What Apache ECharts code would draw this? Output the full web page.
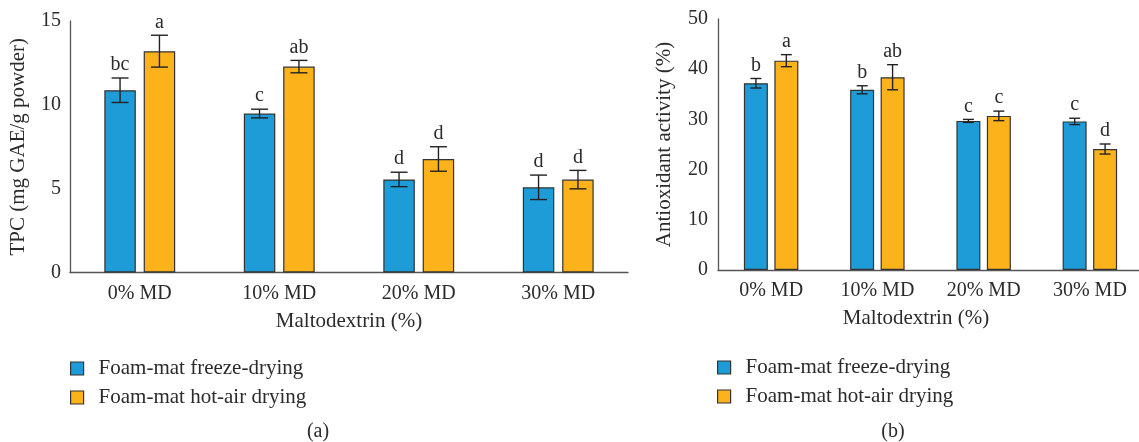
<!DOCTYPE html>
<html>
<head>
<meta charset="utf-8">
<script src="https://cdn.jsdelivr.net/npm/echarts@6/dist/echarts.min.js"></script>
<style>
html,body{margin:0;padding:0;background:#fff;}
#c{width:1139px;height:442px;}
</style>
</head>
<body>
<div id="c"></div>
<script>
// ---- data ----
var categories = ['0% MD', '10% MD', '20% MD', '30% MD'];
var seriesNames = ['Foam-mat freeze-drying', 'Foam-mat hot-air drying'];

// (a) TPC
var tpcFreeze = [10.87, 9.48, 5.55, 5.08];
var tpcFreezeErr = [0.73, 0.26, 0.43, 0.73];
var tpcFreezeLetters = ['bc', 'c', 'd', 'd'];
var tpcHot = [13.2, 12.28, 6.77, 5.54];
var tpcHotErr = [0.95, 0.37, 0.73, 0.55];
var tpcHotLetters = ['a', 'ab', 'd', 'd'];
var tpcTicks = [0, 5, 10, 15];

// (b) Antioxidant activity
var aoFreeze = [37.2, 35.9, 29.7, 29.6];
var aoFreezeErr = [0.95, 0.8, 0.3, 0.63];
var aoFreezeLetters = ['b', 'b', 'c', 'c'];
var aoHot = [41.7, 38.4, 30.7, 24.1];
var aoHotErr = [1.2, 2.5, 0.95, 1.0];
var aoHotLetters = ['a', 'ab', 'c', 'd'];
var aoTicks = [0, 10, 20, 30, 40, 50];

// ---- styles ----
var FONT = '"Liberation Serif", "DejaVu Serif", serif';
var FS = 20;
var BLUE = '#1E9CD7';
var ORANGE = '#FBB21B';
var TXT = '#2b2b2b';
var AXIS = '#555';

function errSeries(xIdx, vals, errs, letters, offset, cap) {
  return {
    type: 'custom',
    xAxisIndex: xIdx, yAxisIndex: xIdx,
    silent: true, z: 10,
    data: vals.map(function (v, i) { return [i, v + errs[i], v - errs[i]]; }),
    renderItem: function (params, api) {
      var i = api.value(0);
      var hi = api.coord([i, api.value(1)]);
      var lo = api.coord([i, api.value(2)]);
      var x = hi[0] + offset;
      var st = { stroke: '#222', lineWidth: 1.4 };
      return {
        type: 'group',
        children: [
          { type: 'line', shape: { x1: x, y1: hi[1], x2: x, y2: lo[1] }, style: st },
          { type: 'line', shape: { x1: x - cap / 2, y1: hi[1], x2: x + cap / 2, y2: hi[1] }, style: st },
          { type: 'line', shape: { x1: x - cap / 2, y1: lo[1], x2: x + cap / 2, y2: lo[1] }, style: st },
          { type: 'text', style: { text: letters[params.dataIndex], x: x, y: hi[1] - 3,
              align: 'center', verticalAlign: 'bottom', font: FS + 'px ' + FONT, fill: TXT } }
        ]
      };
    }
  };
}

function barSeries(name, xIdx, data, color, width, gap) {
  return {
    name: name, type: 'bar', xAxisIndex: xIdx, yAxisIndex: xIdx,
    data: data, barWidth: width, barGap: gap,
    itemStyle: { color: color, borderColor: '#333', borderWidth: 1.2 }
  };
}

var xAxisCommon = {
  type: 'category', data: categories,
  axisLine: { lineStyle: { color: AXIS, width: 1.3 } },
  axisTick: { show: false },
  axisLabel: { color: TXT, fontFamily: FONT, fontSize: FS, margin: 11 }
};

var option = {
  animation: false,
  backgroundColor: '#fff',
  textStyle: { fontFamily: FONT },
  grid: [
    { left: 70, top: 21, width: 558, height: 251.5, containLabel: false, outerBoundsMode: 'none' },
    { left: 718, top: 19, width: 425, height: 251, containLabel: false, outerBoundsMode: 'none' }
  ],
  xAxis: [
    Object.assign({ gridIndex: 0, name: 'Maltodextrin (%)', nameLocation: 'middle', nameGap: 38,
      nameTextStyle: { color: TXT, fontFamily: FONT, fontSize: 21 } }, xAxisCommon),
    Object.assign({ gridIndex: 1 }, xAxisCommon)
  ],
  yAxis: [
    { type: 'value', gridIndex: 0, min: tpcTicks[0], max: tpcTicks[tpcTicks.length - 1], interval: tpcTicks[1] - tpcTicks[0],
      name: 'TPC (mg GAE/g powder)', nameLocation: 'middle', nameGap: 41,
      nameTextStyle: { color: TXT, fontFamily: FONT, fontSize: 21 },
      axisLine: { show: true, lineStyle: { color: AXIS, width: 1.3 } },
      axisTick: { show: false }, splitLine: { show: false },
      axisLabel: { color: TXT, fontFamily: FONT, fontSize: FS, margin: 9 } },
    { type: 'value', gridIndex: 1, min: aoTicks[0], max: aoTicks[aoTicks.length - 1], interval: aoTicks[1] - aoTicks[0],
      name: 'Antioxidant activity (%)', nameLocation: 'middle', nameGap: 43,
      nameTextStyle: { color: TXT, fontFamily: FONT, fontSize: 21 },
      axisLine: { show: true, lineStyle: { color: AXIS, width: 1.3 } },
      axisTick: { show: false }, splitLine: { show: false },
      axisLabel: { color: TXT, fontFamily: FONT, fontSize: FS, margin: 10 } }
  ],
  legend: [
    { orient: 'vertical', left: 65, top: 353, itemWidth: 13, itemHeight: 13, itemGap: 8,
      icon: 'rect', data: seriesNames, selectedMode: false,
      itemStyle: { borderColor: '#333', borderWidth: 1.2 },
      textStyle: { color: TXT, fontFamily: FONT, fontSize: 21, lineHeight: 20, padding: [0, 0, 0, 10] } },
    { orient: 'vertical', left: 712, top: 352, itemWidth: 13, itemHeight: 13, itemGap: 8,
      icon: 'rect', data: seriesNames, selectedMode: false,
      itemStyle: { borderColor: '#333', borderWidth: 1.2 },
      textStyle: { color: TXT, fontFamily: FONT, fontSize: 21, lineHeight: 20, padding: [0, 0, 0, 10] } }
  ],
  graphic: [
    { type: 'text', position: [916, 318], style: { text: 'Maltodextrin (%)', align: 'center', verticalAlign: 'middle',
        font: '21px ' + FONT, fill: TXT } },
    { type: 'text', position: [318, 432], style: { text: '(a)', align: 'center', verticalAlign: 'middle',
        font: '20px ' + FONT, fill: TXT } },
    { type: 'text', position: [893, 432], style: { text: '(b)', align: 'center', verticalAlign: 'middle',
        font: '20px ' + FONT, fill: TXT } }
  ],
  series: [
    barSeries(seriesNames[0], 0, tpcFreeze, BLUE, 31.5, '25%'),
    barSeries(seriesNames[1], 0, tpcHot, ORANGE, 31.5, '25%'),
    errSeries(0, tpcFreeze, tpcFreezeErr, tpcFreezeLetters, -19.7, 17),
    errSeries(0, tpcHot, tpcHotErr, tpcHotLetters, 19.7, 17),
    barSeries(seriesNames[0], 1, aoFreeze, BLUE, 24, '27%'),
    barSeries(seriesNames[1], 1, aoHot, ORANGE, 24, '27%'),
    errSeries(1, aoFreeze, aoFreezeErr, aoFreezeLetters, -15.2, 11),
    errSeries(1, aoHot, aoHotErr, aoHotLetters, 15.2, 11)
  ]
};

var chart = echarts.init(document.getElementById('c'), null, { renderer: 'canvas' });
chart.setOption(option);
</script>
</body>
</html>
